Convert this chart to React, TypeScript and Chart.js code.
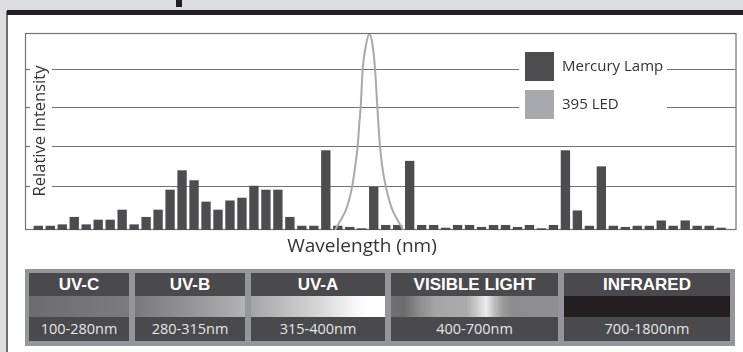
import React, { useEffect, useRef } from "react";
import { Chart, registerables } from "chart.js";

Chart.register(...registerables);

// ---- data ----
// Mercury lamp relative intensity (percent of plot height), one bar per line
const mercuryLamp = [
  2.0, 2.0, 2.7, 6.5, 2.7, 5.1, 5.1, 10.2, 2.7, 6.5,
  10.2, 20.4, 30.3, 25.2, 14.3, 10.2, 14.9, 16.3, 22.4, 20.4,
  20.4, 6.5, 2.0, 2.0, 40.5, 2.0, 1.4, 0.7, 21.8, 2.4,
  2.4, 35.1, 2.4, 2.4, 1.0, 2.4, 2.4, 1.4, 2.4, 2.4,
  1.4, 2.4, 0.7, 2.4, 40.5, 9.8, 2.0, 32.3, 2.0, 1.4,
  2.0, 2.0, 4.7, 2.0, 4.7, 2.0, 2.0, 1.0,
];
// 395 LED curve, x in bar-position units, y in percent
const ledX = [
  25.77, 26.18, 26.74, 27.21, 27.43, 27.66, 27.79, 27.91, 28.08, 28.36,
  28.64, 28.9, 29.11, 29.3, 29.52, 29.73, 30.0, 30.5, 31.05, 31.47,
];
const ledY = [
  0, 4.4, 11.2, 22.4, 31.6, 42.9, 53.7, 62.8, 82.1, 94.5,
  100, 94.5, 82.1, 62.8, 42.9, 31.6, 22.4, 11.2, 4.4, 0,
];
const gridValues = [22.4, 42.9, 62.8, 82.1];
const seriesLabels = ["Mercury Lamp", "395 LED"];
const yTitle = "Relative Intensity";
const xTitle = "Wavelength (nm)";
const bandNames = ["UV-C", "UV-B", "UV-A", "VISIBLE LIGHT", "INFRARED"];
const bandRanges = ["100-280nm", "280-315nm", "315-400nm", "400-700nm", "700-1800nm"];

// ---- styles ----
const BAR_COLOR = "#4d4d4f";
const LED_COLOR = "#a7a9ac";
const GRID_COLOR = "#727376";
const TEXT_COLOR = "#333335";
const FONT = "'Open Sans', 'Noto Sans', sans-serif";

const bandLeft = [4, 110, 226, 366, 539];
const bandWidth = [100, 110, 134, 167, 166];
const bandGradient = [
  "linear-gradient(to right, #6c6c6e, #767678 60%, #7b7b7d)",
  "linear-gradient(to right, #79797b, #9a9a9c 60%, #b3b3b5)",
  "linear-gradient(to right, #a5a5a7, #d6d6d6 50%, #f4f4f4 75%, #ffffff 86%, #ffffff)",
  "linear-gradient(to right, #707072 0%, #6c6c6e 8%, #8d8d8d 17%, #a5a5a5 27%, #ababab 45%, #c8c8c8 51%, #ececec 57%, #bdbdbd 62%, #9a9a9a 67%, #8d8d8f 72%, #8f8f91 100%)",
  "#231f20",
];

const decorPlugin = {
  id: "decor",
  beforeDatasetsDraw(chart: any) {
    const { ctx, chartArea: a, scales } = chart;
    const y = scales.y;
    ctx.save();
    ctx.strokeStyle = GRID_COLOR;
    ctx.lineWidth = 1.2;
    gridValues.forEach((v) => {
      const py = Math.round(y.getPixelForValue(v)) + 0.5;
      ctx.beginPath();
      ctx.moveTo(a.left + 27, py);
      ctx.lineTo(a.right, py);
      ctx.stroke();
      ctx.beginPath();
      ctx.moveTo(a.left, py);
      ctx.lineTo(a.left + 5, py);
      ctx.stroke();
    });
    ctx.lineWidth = 1.2;
    ctx.strokeRect(a.left + 0.5, a.top - 0.5, a.right - a.left - 0.5, a.bottom - a.top);
    // y title
    ctx.fillStyle = TEXT_COLOR;
    ctx.font = `16.5px ${FONT}`;
    ctx.textAlign = "center";
    ctx.textBaseline = "middle";
    ctx.translate(a.left + 15, (a.top + a.bottom) / 2 - 1);
    ctx.rotate(-Math.PI / 2);
    ctx.fillText(yTitle, 0, 0);
    ctx.restore();
    // x title
    ctx.save();
    ctx.fillStyle = TEXT_COLOR;
    ctx.font = `19px ${FONT}`;
    ctx.textAlign = "center";
    ctx.textBaseline = "middle";
    ctx.fillText(xTitle, 362, a.bottom + 17);
    ctx.restore();
  },
  afterDatasetsDraw(chart: any) {
    const { ctx } = chart;
    ctx.save();
    ctx.fillStyle = "#ffffff";
    ctx.fillRect(519, 48, 148, 76);
    const items = chart.data.datasets.map((d: any) => ({
      label: d.label,
      color: d.type === "line" ? d.borderColor : d.backgroundColor,
    }));
    items.forEach((it: any, i: number) => {
      const top = 52 + i * 38;
      ctx.fillStyle = it.color;
      ctx.fillRect(525, top, 29, 29);
      ctx.fillStyle = TEXT_COLOR;
      ctx.font = `15px ${FONT}`;
      ctx.textAlign = "left";
      ctx.textBaseline = "middle";
      ctx.fillText(it.label, 562, top + 15);
    });
    ctx.restore();
  },
};

export default function App() {
  const canvasRef = useRef<HTMLCanvasElement | null>(null);

  useEffect(() => {
    if (!canvasRef.current) return;
    const chart = new Chart(canvasRef.current, {
      type: "bar",
      data: {
        datasets: [
          {
            type: "bar",
            label: seriesLabels[0],
            data: mercuryLamp.map((v, i) => ({ x: i + 1, y: v })),
            backgroundColor: BAR_COLOR,
            borderWidth: 0,
            barThickness: 8.7,
            order: 1,
          } as any,
          {
            type: "line",
            label: seriesLabels[1],
            data: ledX.map((x, i) => ({ x, y: ledY[i] })),
            borderColor: LED_COLOR,
            backgroundColor: LED_COLOR,
            borderWidth: 2,
            pointRadius: 0,
            cubicInterpolationMode: "monotone",
            fill: false,
            order: 0,
          } as any,
        ],
      },
      options: {
        animation: false,
        responsive: false,
        devicePixelRatio: 1,
        layout: { padding: { left: 25, top: 34, right: 7, bottom: 122 } },
        plugins: { legend: { display: false }, tooltip: { enabled: false } },
        scales: {
          x: { type: "linear", min: -0.11, max: 59.24, display: false, offset: false },
          y: { type: "linear", min: 0, max: 100, display: false },
        },
      } as any,
      plugins: [decorPlugin],
    });
    return () => chart.destroy();
  }, []);

  return (
    <div
      style={{
        position: "fixed",
        left: 0,
        top: 0,
        width: 743,
        height: 352,
        background: "#dddedf",
        overflow: "hidden",
      }}
    >
      <div style={{ position: "absolute", left: 176, top: 0, width: 6, height: 7, background: "#231f20" }} />
      <div
        style={{
          position: "absolute",
          left: 6,
          top: 11,
          width: 737,
          height: 341,
          background: "#ffffff",
          borderLeft: "2px solid #6d6e70",
          boxSizing: "border-box",
        }}
      />
      <div style={{ position: "absolute", left: 7, top: 10, width: 736, height: 5, background: "#231f20" }} />
      <canvas
        ref={canvasRef}
        width={743}
        height={352}
        style={{ position: "absolute", left: 0, top: 0, width: 743, height: 352 }}
      />
      <div
        style={{
          position: "absolute",
          left: 25,
          top: 269,
          width: 710,
          height: 77,
          background: "#949699",
        }}
      >
        {bandNames.map((name, i) => (
          <div
            key={name}
            style={{ position: "absolute", left: bandLeft[i], top: 4, width: bandWidth[i], height: 68 }}
          >
            <div
              style={{
                height: 23,
                background: "#4a4a4c",
                color: "#ffffff",
                fontFamily: "'Liberation Sans', Arial, sans-serif",
                fontWeight: 700,
                fontSize: 17,
                lineHeight: "23px",
                textAlign: "center",
                whiteSpace: "nowrap",
              }}
            >
              {name}
            </div>
            <div style={{ height: 21, background: bandGradient[i] }} />
            <div
              style={{
                height: 24,
                background: "#4a4a4c",
                color: "#e4e5e6",
                fontFamily: FONT,
                fontSize: 14.5,
                lineHeight: "24px",
                textAlign: "center",
                whiteSpace: "nowrap",
              }}
            >
              {bandRanges[i]}
            </div>
          </div>
        ))}
      </div>
    </div>
  );
}
